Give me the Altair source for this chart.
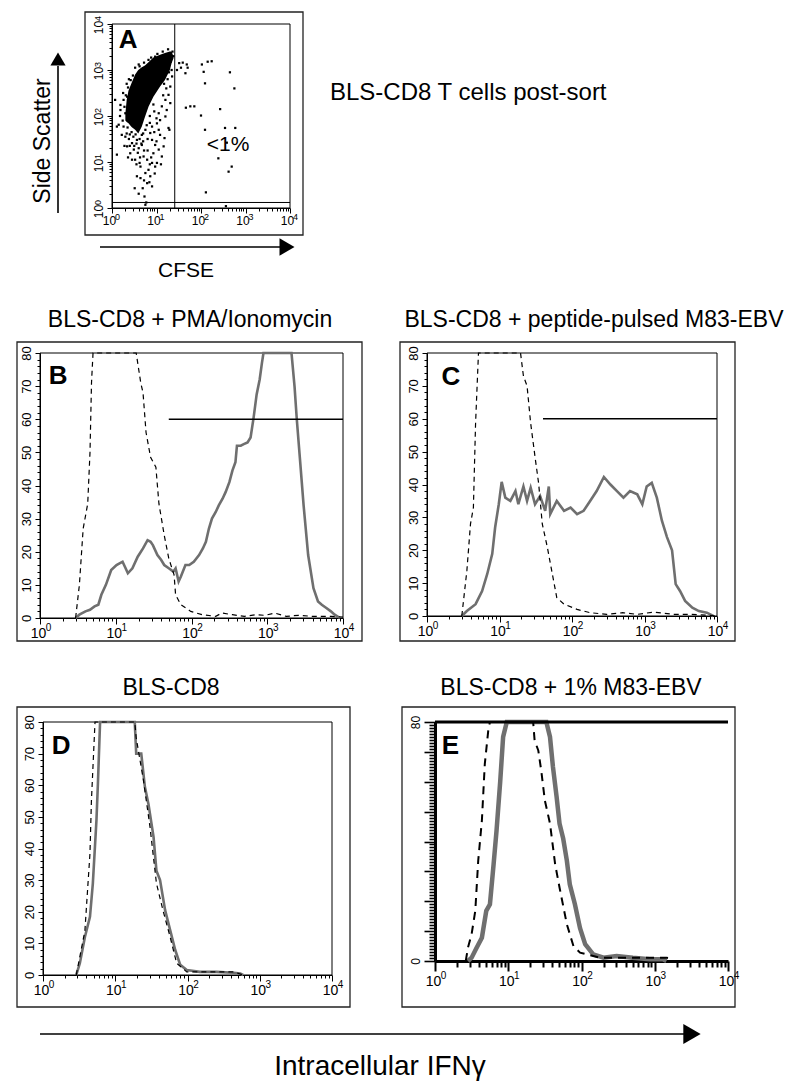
import math
import altair as alt
import pandas as pd

FONT = "Liberation Sans"
W, H = 784, 1082

# ---------------- Panel A: CFSE vs side scatter (values in decades, log10) ----------------
a_core_x = [0.30, 0.33, 0.37, 0.44, 0.52, 0.59, 0.67, 0.74, 0.82, 0.93, 1.08, 1.19, 1.30, 1.34, 1.38]
a_core_hi = [2.05, 2.35, 2.55, 2.72, 2.90, 3.00, 3.06, 3.10, 3.17, 3.27, 3.33, 3.37, 3.40, 3.40, 3.30]
a_core_lo = [1.90, 1.87, 1.84, 1.76, 1.70, 1.62, 1.77, 1.98, 2.20, 2.42, 2.64, 2.78, 3.00, 3.15, 3.25]
a_events = [
    (0.07, 2.35), (0.19, 2.13), (0.15, 1.81), (0.26, 1.77), (0.22, 1.59), (0.11, 1.16), (0.34, 1.34),
    (0.41, 1.19), (0.49, 1.27), (0.52, 1.05), (0.64, 0.90), (0.71, 1.12), (0.79, 1.05), (0.82, 0.83),
    (0.75, 0.76), (0.90, 0.98), (0.93, 1.19), (0.97, 1.37), (1.05, 1.27), (1.12, 1.12), (1.16, 1.34),
    (1.01, 0.98), (0.97, 0.90), (0.86, 0.69), (0.79, 0.54), (0.84, 0.56), (0.73, 0.25), (0.51, 0.43),
    (0.60, 0.31), (0.75, 0.07), (0.56, 1.48), (0.67, 1.59), (0.75, 1.70), (0.86, 1.63), (0.90, 1.77),
    (1.01, 1.84), (1.08, 1.91), (1.20, 1.99), (1.27, 1.74), (1.23, 2.13), (1.20, 2.35), (1.27, 2.46),
    (1.31, 2.28), (1.12, 2.21), (1.05, 2.06), (0.37, 1.99), (0.45, 1.92), (0.30, 2.06), (0.19, 2.24),
    (0.26, 2.35), (0.34, 2.42), (0.41, 2.53), (0.49, 2.68), (0.56, 2.78), (0.67, 3.00), (0.82, 3.22),
    (0.97, 3.29), (1.35, 2.86), (1.31, 2.64), (0.11, 1.77), (0.30, 1.55), (0.45, 1.41), (0.60, 1.30),
    (0.67, 1.37), (0.90, 1.48), (1.08, 1.59), (1.18, 1.52), (0.96, 0.75), (0.90, 0.47), (0.69, 0.43),
    (1.05, 1.70), (1.29, 1.70), (0.77, 0.12), (0.56, 0.69), (0.64, 0.65), (0.25, 2.50), (0.33, 2.70),
    (0.38, 2.80), (0.52, 3.05), (0.60, 3.12), (1.36, 3.40), (1.38, 3.30), (1.34, 3.00), (1.25, 2.80),
    (0.18, 2.00), (0.24, 1.90), (0.40, 1.60), (0.55, 1.40), (0.70, 1.45), (0.85, 1.85), (0.95, 2.10),
    (1.15, 2.45), (0.62, 0.98), (0.80, 1.25), (1.00, 1.45), (0.45, 1.05), (0.72, 0.60), (0.88, 1.10),
    (1.10, 0.95), (0.35, 1.75), (0.28, 1.35), (0.58, 1.75), (0.93, 2.25), (1.22, 2.60),
    (0.33, 1.62), (0.38, 1.50), (0.48, 1.55), (0.62, 1.50), (0.70, 1.62), (0.78, 1.80), (0.85, 2.00),
    (0.44, 1.65), (0.53, 1.60), (0.66, 1.40), (0.50, 1.35), (0.58, 1.20), (0.40, 1.35), (0.36, 1.10),
    (0.80, 1.50), (0.95, 1.65), (1.00, 1.95), (0.72, 1.25), (0.63, 1.10), (0.55, 0.95), (0.85, 0.95),
    (0.28, 2.20), (0.31, 2.45), (0.36, 2.62), (0.42, 2.78), (0.47, 2.88), (0.62, 3.08), (0.72, 3.16),
    (0.88, 3.27), (1.02, 3.35), (1.14, 3.40), (1.26, 3.45), (1.32, 3.18), (1.28, 2.95), (1.17, 2.70),
    # CFSE-high events (right of the gate)
    (1.51, 3.15), (1.59, 3.16), (1.68, 3.12), (1.65, 2.93), (1.46, 3.00), (1.55, 3.05), (2.02, 3.12),
    (2.24, 3.19), (2.06, 2.96), (2.09, 2.71), (2.65, 2.95), (2.75, 2.60), (1.66, 2.18), (1.76, 2.21),
    (1.85, 2.21), (2.00, 2.01), (2.43, 2.15), (2.09, 1.70), (2.54, 1.74), (2.77, 1.74), (2.58, 1.42),
    (2.39, 1.08), (2.62, 0.79), (2.69, 0.90), (2.11, 0.34), (2.56, 0.04), (2.15, 3.18), (1.70, 3.05),
]
a_gate_cfse = 1.41
a_gate_ssc = 0.12
a_note = ("<1%", 2.61, 1.37)

# ---------------- Histograms (x in decades of IFNγ, y = counts) ----------------
b_solid = [(0.47, 0), (0.52, 1), (0.60, 2), (0.66, 2.5), (0.72, 3.5), (0.77, 4), (0.81, 7), (0.87, 10),
           (0.94, 14.5), (1.01, 16), (1.05, 16.5), (1.09, 17), (1.13, 15), (1.16, 13.5), (1.22, 15),
           (1.29, 18.5), (1.36, 21), (1.42, 23.5), (1.46, 23), (1.49, 22), (1.55, 19), (1.60, 17.5),
           (1.64, 16), (1.70, 15), (1.76, 14), (1.79, 15), (1.83, 11), (1.86, 12.5), (1.92, 16),
           (1.97, 16), (2.03, 17), (2.10, 19), (2.15, 21), (2.19, 23), (2.23, 27), (2.27, 30), (2.32, 32),
           (2.36, 34), (2.41, 36), (2.45, 38), (2.50, 41), (2.54, 44.5), (2.58, 47), (2.60, 52),
           (2.65, 52), (2.69, 52.5), (2.74, 53), (2.78, 54.5), (2.82, 60.5), (2.86, 67.5), (2.90, 72),
           (2.93, 77), (2.95, 80), (3.32, 80), (3.36, 70), (3.39, 60), (3.43, 48.5), (3.48, 34),
           (3.54, 19), (3.61, 9), (3.67, 5), (3.72, 4), (3.78, 3), (3.84, 2), (3.89, 1), (3.96, 0)]
b_dashed = [(0.47, 0), (0.52, 10), (0.57, 27), (0.63, 34.5), (0.66, 50), (0.68, 71), (0.70, 80),
            (1.27, 80), (1.33, 71), (1.36, 68), (1.40, 56), (1.46, 48.5), (1.53, 45.5), (1.57, 34.5),
            (1.64, 25), (1.70, 18), (1.77, 13), (1.79, 7), (1.86, 4), (1.99, 2), (2.14, 1), (2.32, 0.5),
            (2.40, 1.5), (2.54, 1), (2.70, 0.5), (2.85, 1), (2.97, 0.8), (3.10, 1.5), (3.25, 0.5),
            (3.41, 0.8), (3.60, 0.5), (3.85, 0.5), (4.00, 0.3)]
b_gate = (1.70, 60)

c_solid = [(0.48, 0), (0.55, 1.5), (0.67, 3.6), (0.76, 7.6), (0.83, 12.7), (0.90, 18.9), (0.94, 27),
           (0.99, 34), (1.03, 40.8), (1.08, 36), (1.15, 35), (1.22, 38), (1.26, 34), (1.33, 39.4),
           (1.38, 35), (1.43, 39), (1.49, 34), (1.56, 36.5), (1.63, 32), (1.68, 39.4), (1.70, 31),
           (1.79, 35), (1.89, 32), (1.98, 33), (2.07, 31), (2.16, 32), (2.25, 35), (2.34, 38),
           (2.44, 42.3), (2.53, 40), (2.62, 38), (2.71, 36), (2.80, 38), (2.90, 37), (2.97, 34),
           (3.03, 39.4), (3.10, 40.5), (3.17, 36), (3.24, 29), (3.31, 24), (3.38, 20), (3.43, 9.7),
           (3.49, 7.6), (3.56, 4.6), (3.66, 2.5), (3.75, 1.5), (3.86, 1), (3.95, 0)]
c_dashed = [(0.48, 0), (0.55, 13.8), (0.60, 28), (0.64, 33), (0.67, 58.6), (0.71, 80), (1.29, 80),
            (1.33, 73), (1.38, 70), (1.43, 58.6), (1.49, 48.4), (1.54, 40.3), (1.59, 28), (1.66, 20.9),
            (1.72, 13.8), (1.79, 5.6), (1.89, 3.6), (2.07, 2), (2.25, 1), (2.48, 0.5), (2.70, 1),
            (2.90, 0.5), (3.13, 1.2), (3.40, 0.5), (3.63, 0.5), (3.90, 0.2), (4.00, 0)]
c_gate = (1.60, 60)

d_solid = [(0.46, 0), (0.51, 3.7), (0.58, 12), (0.65, 18.4), (0.69, 29), (0.74, 49), (0.76, 60.5),
           (0.79, 80), (1.27, 80), (1.29, 70), (1.36, 70), (1.41, 59.5), (1.46, 54), (1.53, 43.7),
           (1.57, 33), (1.62, 30), (1.69, 20.5), (1.76, 14.2), (1.83, 7.9), (1.90, 3.2), (1.99, 1.6),
           (2.17, 1), (2.40, 1), (2.64, 0.7), (2.73, 0.5), (2.77, 0)]
d_dashed = [(0.46, 0), (0.51, 5.8), (0.58, 14), (0.62, 28), (0.65, 38.4), (0.67, 55), (0.70, 70),
            (0.72, 80), (1.27, 80), (1.29, 75), (1.39, 61.6), (1.48, 47), (1.57, 29), (1.66, 20.5),
            (1.76, 12), (1.85, 3.7), (1.99, 1), (2.64, 1), (2.77, 0)]

e_solid = [(0.45, 0), (0.50, 1.1), (0.57, 4.5), (0.64, 7.8), (0.70, 16.8), (0.75, 19), (0.80, 32.4),
           (0.84, 43.6), (0.89, 60), (0.93, 75), (0.98, 80), (1.52, 80), (1.57, 75), (1.61, 65),
           (1.66, 55), (1.70, 46), (1.75, 41), (1.80, 33.6), (1.84, 25.7), (1.91, 19), (1.98, 11),
           (2.05, 5.6), (2.16, 2.2), (2.30, 1.1), (2.48, 1.7), (2.70, 1.1), (2.93, 0.6), (3.11, 0.6),
           (3.16, 0)]
e_dashed = [(0.42, 0), (0.45, 4.5), (0.50, 9), (0.55, 16.8), (0.59, 33.6), (0.64, 47), (0.68, 66),
            (0.73, 77.8), (0.75, 80), (1.34, 80), (1.36, 73.8), (1.41, 70.5), (1.45, 63.8),
            (1.50, 53.7), (1.57, 46), (1.64, 32.4), (1.70, 24.6), (1.80, 12.3), (1.89, 5), (1.98, 2.8),
            (2.25, 1.1), (3.16, 1.1), (3.20, 0.9)]

titles = {
    "A": "BLS-CD8 T cells post-sort",
    "B": "BLS-CD8 + PMA/Ionomycin",
    "C": "BLS-CD8 + peptide-pulsed M83-EBV",
    "D": "BLS-CD8",
    "E": "BLS-CD8 + 1% M83-EBV",
}
axis_names = {"ssc": "Side Scatter", "cfse": "CFSE", "ifn": "Intracellular IFNγ"}

# ---------------- helpers ----------------
DECADES = [0, 1, 2, 3, 4]
MINOR_DEC = [d + math.log10(m) for d in range(4) for m in range(2, 10)]
one = pd.DataFrame({"k": [0]})


def pairs_df(p):
    return pd.DataFrame(p, columns=["x", "y"])


def base(orient, offset, values, tw=1, dw=1, size=5):
    return dict(orient=orient, offset=offset, values=values, title=None, grid=False,
                labelFlush=False, labelOverlap=False, domainColor="black", domainWidth=dw,
                tickColor="black", tickWidth=tw, tickSize=size, labelFont=FONT, labelColor="black")


def log_axes(orient, offset, fs, sfs, tw, dw, size, msize, pad, main_off, sup_off, rise):
    """Three axes: decade ticks with '10', superscript exponents, and minor log ticks."""
    vertical = orient == "left"
    rot = dict(labelAngle=270, labelAlign="center", labelBaseline="bottom") if vertical else {}
    main = alt.Axis(labelExpr="'10'", labelFontSize=fs, labelPadding=pad, labelOffset=main_off,
                    **rot, **base(orient, offset, DECADES, tw, dw, size))
    sup = alt.Axis(labelExpr="datum.label", labelFontSize=sfs,
                   labelPadding=(pad + rise) if vertical else (pad - rise), labelOffset=sup_off,
                   domain=False, tickOpacity=0, **rot, **base(orient, offset, DECADES, tw, dw, size))
    minor = alt.Axis(labels=False, domain=False, **base(orient, offset, MINOR_DEC, tw, 1, msize))
    return main, sup, minor


def lin_axes(offset, major_vals, minor_vals, label_expr, fs, tw, dw, size, msize, pad):
    rot = dict(labelAngle=270, labelAlign="center", labelBaseline="bottom")
    main = alt.Axis(labelExpr=label_expr, labelFontSize=fs, labelPadding=pad,
                    **rot, **base("left", offset, major_vals, tw, dw, size))
    minor = alt.Axis(labels=False, domain=False, **base("left", offset, minor_vals, tw, 1, msize))
    return main, None, minor


def guide_layers(xs, ys, ymax, xaxes, yaxes, stroke_w):
    fdf = pd.DataFrame({"x0": [0], "x1": [4], "y0": [0], "y1": [ymax]})
    out = []
    for i in range(3):
        xa, ya = xaxes[i], yaxes[i]
        if i == 0:
            m = alt.Chart(fdf).mark_rect(fillOpacity=0, stroke="black", strokeWidth=stroke_w)
        else:
            m = alt.Chart(fdf).mark_rect(opacity=0)
        out.append(m.encode(
            x=alt.X("x0:Q", scale=xs, axis=xa), x2="x1:Q",
            y=alt.Y("y0:Q", scale=ys, axis=ya), y2="y1:Q"))
    return out


def box(x0, x1, y0, y1, sw=1.3):
    return alt.Chart(one).mark_rect(fillOpacity=0, stroke="#222222", strokeWidth=sw).encode(
        x=alt.value(x0), x2=alt.value(x1), y=alt.value(y0), y2=alt.value(y1))


def text(txt, x, y, size, align="center", baseline="alphabetic", angle=0, weight="normal"):
    kw = dict(text=txt, font=FONT, fontSize=size, align=align, baseline=baseline,
              fontWeight=weight, color="black")
    if angle:
        kw["angle"] = angle
    return alt.Chart(one).mark_text(**kw).encode(x=alt.value(x), y=alt.value(y))


def hrule(x0, x1, y, sw=1.6):
    return alt.Chart(one).mark_rule(color="black", strokeWidth=sw).encode(
        x=alt.value(x0), x2=alt.value(x1), y=alt.value(y))


def vrule(x, y0, y1, sw=1.6):
    return alt.Chart(one).mark_rule(color="black", strokeWidth=sw).encode(
        x=alt.value(x), y=alt.value(y0), y2=alt.value(y1))


def head(x, y, shape, size):
    return alt.Chart(one).mark_point(shape=shape, filled=True, color="black", size=size,
                                     opacity=1).encode(x=alt.value(x), y=alt.value(y))


# ---------------- panel A ----------------
def panel_a():
    xr, yr = [104, 282], [200, 16]
    xs = alt.Scale(domain=[0, 4], range=xr, nice=False, zero=False)
    ys = alt.Scale(domain=[0, 4], range=yr, nice=False, zero=False)
    xax = log_axes("bottom", yr[0] - H, 12, 9, 1, 1, 5, 3, 2, -3, 5, 3)
    yax = log_axes("left", -xr[0], 12, 9, 1, 1, 5, 3, 2, 3, -6, 3)
    layers = guide_layers(xs, ys, 4, xax, yax, 1)
    core = alt.Chart(pd.DataFrame({"x": a_core_x, "lo": a_core_lo, "hi": a_core_hi})).mark_area(
        color="black").encode(
        x=alt.X("x:Q", scale=xs, axis=None), y=alt.Y("hi:Q", scale=ys, axis=None), y2="lo:Q")
    pts = alt.Chart(pairs_df(a_events)).mark_square(size=5, color="black", opacity=1).encode(
        x=alt.X("x:Q", scale=xs, axis=None), y=alt.Y("y:Q", scale=ys, axis=None))
    gates = pd.DataFrame({"x0": [a_gate_cfse, 0], "x1": [a_gate_cfse, 4],
                          "y0": [0, a_gate_ssc], "y1": [4, a_gate_ssc]})
    gate = alt.Chart(gates).mark_rule(color="black", strokeWidth=1).encode(
        x=alt.X("x0:Q", scale=xs, axis=None), x2="x1:Q",
        y=alt.Y("y0:Q", scale=ys, axis=None), y2="y1:Q")
    note = alt.Chart(pd.DataFrame({"t": [a_note[0]], "x": [a_note[1]], "y": [a_note[2]]})).mark_text(
        font=FONT, fontSize=21, color="black").encode(
        x=alt.X("x:Q", scale=xs, axis=None), y=alt.Y("y:Q", scale=ys, axis=None), text="t:N")
    letter = alt.Chart(pd.DataFrame({"t": ["A"], "x": [0.36], "y": [3.66]})).mark_text(
        font=FONT, fontSize=26, fontWeight="bold", color="black").encode(
        x=alt.X("x:Q", scale=xs, axis=None), y=alt.Y("y:Q", scale=ys, axis=None), text="t:N")
    layers += [core, pts, gate, note, letter]
    return alt.layer(*layers).resolve_axis(x="independent", y="independent")


# ---------------- histogram panels ----------------
def hist_panel(xr, yr, solid, dashed, letter, letter_pos, gate=None, heavy=False):
    xs = alt.Scale(domain=[0, 4], range=xr, nice=False, zero=False)
    ys = alt.Scale(domain=[0, 80], range=yr, nice=False, zero=False)
    tens = list(range(0, 81, 10))
    if heavy:
        xax = log_axes("bottom", yr[0] - H, 14, 10, 2, 3, 10, 6, 3, -2, 8, 4)
        yax = lin_axes(-xr[0], tens, [v for v in range(0, 81) if v % 10 != 0],
                       "datum.value == 0 || datum.value == 80 ? datum.label : ''", 12, 1.6, 3, 11, 6, 2)
        layers = guide_layers(xs, ys, 80, xax, yax, 0)
    else:
        xax = log_axes("bottom", yr[0] - H, 14, 10, 1, 1, 6, 3, 2, -2, 8, 4)
        yax = lin_axes(-xr[0], tens, [v for v in range(0, 81, 2) if v % 10 != 0],
                       "datum.label", 13, 1, 1, 5, 3, 2)
        layers = guide_layers(xs, ys, 80, xax, yax, 1)
    layers.append(alt.Chart(pairs_df(solid)).mark_line(
        color="#6f6f6f", strokeWidth=4.5 if heavy else 2.6).encode(
        x=alt.X("x:Q", scale=xs, axis=None), y=alt.Y("y:Q", scale=ys, axis=None)))
    layers.append(alt.Chart(pairs_df(dashed)).mark_line(
        color="black", strokeWidth=2 if heavy else 1.2,
        strokeDash=[8, 6] if heavy else [5, 4]).encode(
        x=alt.X("x:Q", scale=xs, axis=None), y=alt.Y("y:Q", scale=ys, axis=None)))
    if gate is not None:
        g = pd.DataFrame({"x0": [gate[0]], "x1": [4], "y": [gate[1]]})
        layers.append(alt.Chart(g).mark_rule(color="black", strokeWidth=1.4).encode(
            x=alt.X("x0:Q", scale=xs, axis=None), x2="x1:Q", y=alt.Y("y:Q", scale=ys, axis=None)))
    if heavy:
        top = pd.DataFrame({"x0": [0], "x1": [4], "y": [80]})
        layers.append(alt.Chart(top).mark_rule(color="black", strokeWidth=3).encode(
            x=alt.X("x0:Q", scale=xs, axis=None), x2="x1:Q", y=alt.Y("y:Q", scale=ys, axis=None)))
    lt = pd.DataFrame({"t": [letter], "x": [letter_pos[0]], "y": [letter_pos[1]]})
    layers.append(alt.Chart(lt).mark_text(font=FONT, fontSize=26, fontWeight="bold", color="black").encode(
        x=alt.X("x:Q", scale=xs, axis=None), y=alt.Y("y:Q", scale=ys, axis=None), text="t:N"))
    return alt.layer(*layers).resolve_axis(x="independent", y="independent")


pa = panel_a()
pb = hist_panel([32, 335], [610, 345], b_solid, b_dashed, "B", (0.24, 73), gate=b_gate)
pc = hist_panel([419, 709], [608, 345], c_solid, c_dashed, "C", (0.33, 72.7), gate=c_gate)
pd_ = hist_panel([35, 324], [967, 714], d_solid, d_dashed, "D", (0.25, 72.4))
pe = hist_panel([427, 720], [953, 714], e_solid, e_dashed, "E", (0.21, 72), heavy=True)

deco = alt.layer(
    box(77, 295, 4, 227), box(9, 354, 334, 633), box(392, 727, 334, 633),
    box(9, 342, 699, 999), box(394, 727, 699, 999),
    vrule(50, 205, 58), head(50, 51, "triangle-up", 230),
    hrule(92, 272, 239), head(279, 239, "triangle-right", 300),
    hrule(32, 678, 1026), head(684, 1026, "triangle-right", 400),
    text(axis_names["ssc"], 35, 133, 23, baseline="middle", angle=270),
    text(axis_names["cfse"], 178, 263, 21, baseline="middle"),
    text(titles["A"], 322, 92, 24, align="left"),
    text(titles["B"], 182, 319, 23),
    text(titles["C"], 586, 319, 23),
    text(titles["D"], 163, 687, 23),
    text(titles["E"], 563, 687, 23),
    text(axis_names["ifn"], 372, 1067, 28),
)

chart = alt.layer(pa, pb, pc, pd_, pe, deco).resolve_scale(
    x="independent", y="independent").properties(
    width=W, height=H, autosize=alt.AutoSizeParams(type="none"), padding=0,
    background="white").configure_view(strokeWidth=0)

chart.save("out.html", embed_options={"renderer": "svg", "actions": False})
